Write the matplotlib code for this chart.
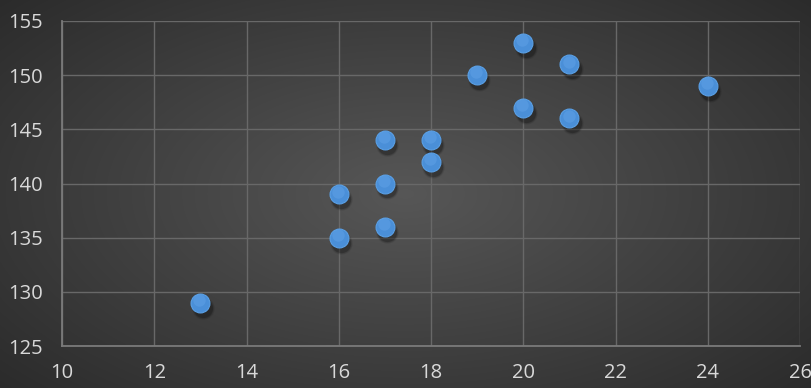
import numpy as np
import matplotlib
matplotlib.use("Agg")
import matplotlib.pyplot as plt

# data
x_vals = [13, 16, 16, 17, 17, 17, 18, 18, 19, 20, 20, 21, 21, 24]
y_vals = [129, 135, 139, 136, 140, 144, 142, 144, 150, 153, 147, 151, 146, 149]
x_ticks = [10, 12, 14, 16, 18, 20, 22, 24, 26]
y_ticks = [125, 130, 135, 140, 145, 150, 155]

plt.rcParams['font.family'] = ['Open Sans', 'DejaVu Sans']

fig = plt.figure(figsize=(8.11, 3.88), dpi=100)

# radial gradient background
bg = fig.add_axes([0, 0, 1, 1], zorder=0)
gx, gy = np.meshgrid(np.linspace(-1, 1, 811), np.linspace(-1, 1, 388))
r = np.sqrt((gx / 1.0) ** 2 + (gy / 1.1) ** 2)
shade = 0.34 - 0.17 * np.clip(r / 1.35, 0, 1)
img = np.dstack([shade, shade, shade])
bg.imshow(img, aspect='auto', extent=[0, 1, 0, 1])
bg.axis('off')

ax = fig.add_axes([0.0765, 0.108, 0.910, 0.838], zorder=1)
ax.patch.set_alpha(0)

xs = np.array(x_vals)
ys = np.array(y_vals)
# soft shadow under markers
for s, a in [(260, 0.08), (220, 0.12), (190, 0.18)]:
    ax.scatter(xs + 0.05, ys - 0.45, s=s, color='black', alpha=a,
               linewidths=0, zorder=3)
ax.scatter(xs, ys, s=185, color='#4a8fd8', edgecolors='#5aa0e6',
           linewidths=0.8, zorder=4)
# slight highlight on top half
ax.scatter(xs - 0.02, ys + 0.25, s=80, color='#6aaaee', alpha=0.35,
           linewidths=0, zorder=5)

ax.set_xlim(10, 26)
ax.set_ylim(125, 155)
ax.set_xticks(x_ticks)
ax.set_yticks(y_ticks)
ax.grid(True, color='#686868', linewidth=1.0)
ax.set_axisbelow(True)
for side in ['top', 'right']:
    ax.spines[side].set_visible(False)
for side in ['left', 'bottom']:
    ax.spines[side].set_color('#7a7a7a')
    ax.spines[side].set_linewidth(1.3)
ax.tick_params(length=0, labelsize=14.5, colors='#d9d9d9')
ax.tick_params(axis='y', pad=14)
ax.tick_params(axis='x', pad=12)

fig.savefig('out.png', dpi=100)
